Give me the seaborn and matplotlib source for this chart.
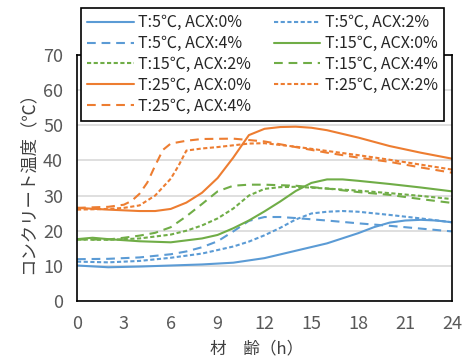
import numpy as np
import pandas as pd
import matplotlib
matplotlib.use("Agg")
import matplotlib.pyplot as plt
import seaborn as sns

# ---- data ----
h_5_0 = [0, 2, 4, 6, 8, 10, 12, 14, 16, 18, 19, 20, 21, 22, 23, 24]
t_5_0 = [10.1, 9.6, 9.8, 10.1, 10.4, 10.9, 12.2, 14.3, 16.4, 19.3, 21.0, 22.3, 22.9, 23.1, 22.9, 22.4]

h_5_2 = [0, 2, 4, 6, 8, 10, 11, 12, 13, 14, 15, 16, 17, 18, 20, 22, 24]
t_5_2 = [11.2, 11.0, 11.4, 12.3, 13.5, 15.5, 16.9, 18.7, 20.8, 23.2, 24.9, 25.4, 25.6, 25.4, 24.5, 23.5, 22.4]

h_5_4 = [0, 2, 4, 6, 7, 8, 9, 10, 11, 12, 13, 14, 16, 18, 20, 22, 24]
t_5_4 = [11.9, 12.0, 12.4, 13.3, 14.1, 15.3, 17.0, 19.8, 22.8, 23.9, 23.9, 23.6, 22.9, 22.1, 21.4, 20.6, 19.8]

h_15_0 = [0, 1, 2, 4, 6, 8, 9, 10, 11, 12, 13, 14, 15, 16, 17, 18, 20, 22, 24]
t_15_0 = [17.6, 18.0, 17.6, 17.0, 16.7, 17.8, 18.8, 20.7, 22.9, 25.5, 28.3, 31.3, 33.6, 34.6, 34.6, 34.2, 33.3, 32.3, 31.2]

h_15_2 = [0, 2, 4, 6, 7, 8, 9, 10, 11, 12, 13, 14, 16, 18, 20, 22, 24]
t_15_2 = [17.5, 17.4, 17.8, 18.9, 20.0, 21.5, 23.5, 26.3, 30.0, 31.9, 32.4, 32.5, 32.0, 31.4, 30.7, 29.9, 29.0]

h_15_4 = [0, 2, 3, 4, 5, 6, 7, 8, 9, 10, 11, 12, 14, 16, 18, 20, 22, 24]
t_15_4 = [17.5, 17.5, 18.0, 18.6, 19.4, 21.0, 24.1, 27.6, 31.2, 32.8, 33.1, 33.1, 32.8, 32.0, 31.0, 30.2, 29.0, 27.9]

h_25_0 = [0, 2, 4, 5, 6, 7, 8, 9, 10, 11, 12, 13, 14, 15, 16, 18, 20, 22, 24]
t_25_0 = [26.5, 26.0, 25.6, 25.6, 26.2, 28.0, 30.8, 35.0, 40.8, 47.2, 49.0, 49.5, 49.6, 49.3, 48.6, 46.5, 44.1, 42.2, 40.5]

h_25_2 = [0, 2, 3, 4, 5, 6, 6.5, 7, 8, 9, 10, 11, 12, 14, 16, 18, 20, 22, 24]
t_25_2 = [26.0, 26.2, 26.5, 27.2, 30.0, 34.8, 38.5, 42.8, 43.4, 43.8, 44.3, 44.8, 44.9, 43.9, 42.7, 41.5, 40.2, 38.8, 37.4]

h_25_4 = [0, 2, 3, 3.5, 4, 4.5, 5, 5.5, 6, 7, 8, 10, 12, 14, 16, 18, 20, 22, 24]
t_25_4 = [26.5, 26.8, 27.4, 28.5, 30.5, 33.7, 38.5, 43.0, 44.8, 45.6, 46.1, 46.2, 45.4, 43.8, 42.2, 40.8, 39.6, 38.0, 36.5]

series_labels = [
    "T:5℃, ACX:0%", "T:5℃, ACX:2%", "T:5℃, ACX:4%",
    "T:15℃, ACX:0%", "T:15℃, ACX:2%", "T:15℃, ACX:4%",
    "T:25℃, ACX:0%", "T:25℃, ACX:2%", "T:25℃, ACX:4%",
]
series_hours = [h_5_0, h_5_2, h_5_4, h_15_0, h_15_2, h_15_4, h_25_0, h_25_2, h_25_4]
series_temps = [t_5_0, t_5_2, t_5_4, t_15_0, t_15_2, t_15_4, t_25_0, t_25_2, t_25_4]

x_ticks = [0, 3, 6, 9, 12, 15, 18, 21, 24]
y_ticks = [0, 10, 20, 30, 40, 50, 60, 70]

# ---- build table ----
rows = []
for lab, hs, ts in zip(series_labels, series_hours, series_temps):
    for h, t in zip(hs, ts):
        rows.append({"series": lab, "h": h, "T": t})
df = pd.DataFrame(rows)

blue, green, orange = "#5B9BD5", "#70AD47", "#ED7D31"
palette = {}
dashes = {}
for lab in series_labels:
    c = blue if "T:5℃" in lab else (green if "T:15℃" in lab else orange)
    palette[lab] = c
    if lab.endswith("0%"):
        dashes[lab] = ""
    elif lab.endswith("2%"):
        dashes[lab] = (2.0, 1.2)
    else:
        dashes[lab] = (4.2, 2.8)

sns.set_theme(style="white")
plt.rcParams["font.family"] = ["Noto Sans CJK JP", "DejaVu Sans"]

fig = plt.figure(figsize=(4.64, 3.62), dpi=100)
ax = fig.add_axes([77 / 464, 1 - 301 / 362, (452 - 77) / 464, (301 - 55) / 362])

sns.lineplot(data=df, x="h", y="T", hue="series", style="series",
             hue_order=series_labels, style_order=series_labels,
             palette=palette, dashes=dashes, linewidth=1.5, ax=ax,
             sort=False, estimator=None)

ax.set_xlim(0, 24)
ax.set_ylim(0, 70)
ax.set_xticks(x_ticks)
ax.set_yticks(y_ticks)
ax.tick_params(axis="both", which="both", length=0, labelsize=13,
               labelcolor="#595959", pad=10)
ax.yaxis.grid(True, color="#D9D9D9", linewidth=1.2)
ax.xaxis.grid(False)
ax.set_axisbelow(True)
for s in ax.spines.values():
    s.set_visible(True)
    s.set_color("black")
    s.set_linewidth(1.2)

ax.set_xlabel("材　齢（h）", fontsize=12, color="#404040", labelpad=3)
ax.xaxis.set_label_coords(0.48, -0.16)
ax.set_ylabel("コンクリート温度（℃）", fontsize=12.5, color="#404040", labelpad=5)

handles, labels = ax.get_legend_handles_labels()
ax.get_legend().remove()
# row-major order for a 2-column legend (matplotlib fills columns first)
order = [0, 2, 4, 6, 8, 1, 3, 5, 7]
leg = fig.legend([handles[i] for i in order], [labels[i] for i in order],
                 loc="upper left",
                 bbox_to_anchor=(81 / 464, 1 - 8 / 362),
                 ncol=2, fontsize=11.5, frameon=True, fancybox=False,
                 edgecolor="black", framealpha=1, handlelength=2.9,
                 handletextpad=0.3, columnspacing=1.4, labelspacing=0.24,
                 borderpad=0.4, borderaxespad=0)
leg.get_frame().set_linewidth(1.2)
for t in leg.get_texts():
    t.set_color("#262626")

fig.savefig("out.png", dpi=100)
